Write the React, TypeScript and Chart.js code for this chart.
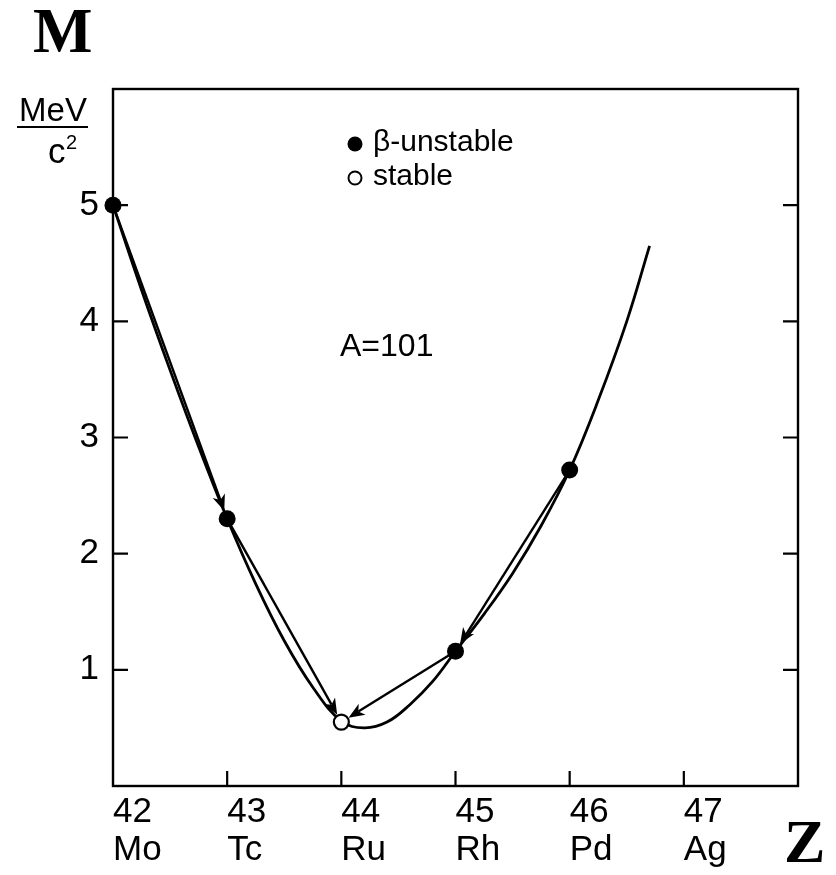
import { useEffect, useRef } from "react";
import { Chart, registerables } from "chart.js";

Chart.register(...registerables);

// Isobars with mass number A = 101: proton number Z and atomic mass excess (MeV/c²)
const protonNumbers = [42, 43, 44, 45, 46];
const isobarMasses = [5.0, 2.3, 0.55, 1.16, 2.72];
const isStable = [false, false, true, false, false];

// Axis ticks
const tickZ = [42, 43, 44, 45, 46, 47];
const tickSymbols = ["Mo", "Tc", "Ru", "Rh", "Pd", "Ag"];
const massTicks = [1, 2, 3, 4, 5];

// Mass parabola sampled along Z
const parabolaZ = [42, 42.25, 42.5, 42.75, 43, 43.25, 43.5, 43.75, 44, 44.2, 44.4, 44.6, 44.8, 45, 45.25, 45.5, 45.75, 46, 46.25, 46.5, 46.7];
const parabolaM = [5.0, 4.27, 3.58, 2.92, 2.3, 1.74, 1.25, 0.85, 0.56, 0.5, 0.55, 0.7, 0.9, 1.16, 1.48, 1.83, 2.24, 2.72, 3.32, 4.0, 4.65];

// β-decay arrows: [from index, to index] into protonNumbers
const decays = [
  [0, 1],
  [1, 2],
  [4, 3],
  [3, 2],
];

const SANS = '"Liberation Sans", Arial, Helvetica, sans-serif';
const SERIF = '"Liberation Serif", "Times New Roman", Times, serif';

function drawArrow(ctx: CanvasRenderingContext2D, x0: number, y0: number, x1: number, y1: number, gap: number) {
  const dx = x1 - x0;
  const dy = y1 - y0;
  const len = Math.hypot(dx, dy);
  const ux = dx / len;
  const uy = dy / len;
  const tx = x1 - ux * gap;
  const ty = y1 - uy * gap;
  const head = 16;
  const half = 6.5;
  const bx = tx - ux * head;
  const by = ty - uy * head;
  const nx = bx + ux * 4.5;
  const ny = by + uy * 4.5;
  ctx.beginPath();
  ctx.moveTo(x0, y0);
  ctx.lineTo(nx, ny);
  ctx.stroke();
  ctx.beginPath();
  ctx.moveTo(tx, ty);
  ctx.lineTo(bx - uy * half, by + ux * half);
  ctx.lineTo(nx, ny);
  ctx.lineTo(bx + uy * half, by - ux * half);
  ctx.closePath();
  ctx.fill();
}

const decorations = {
  id: "decorations",
  beforeDatasetsDraw(chart: any) {
    const { ctx, chartArea: a, scales } = chart;
    const x = scales.x;
    const y = scales.y;
    ctx.save();
    ctx.strokeStyle = "#000";
    ctx.fillStyle = "#000";
    ctx.lineWidth = 2.4;
    ctx.strokeRect(a.left, a.top, a.right - a.left, a.bottom - a.top);

    // inward tick marks
    ctx.lineWidth = 2.2;
    ctx.beginPath();
    for (const m of massTicks) {
      const py = y.getPixelForValue(m);
      ctx.moveTo(a.left, py);
      ctx.lineTo(a.left + 15, py);
      ctx.moveTo(a.right, py);
      ctx.lineTo(a.right - 15, py);
    }
    for (const z of tickZ) {
      const px = x.getPixelForValue(z);
      if (px <= a.left + 1) continue;
      ctx.moveTo(px, a.bottom);
      ctx.lineTo(px, a.bottom - 15);
    }
    ctx.stroke();

    // decay arrows
    ctx.lineWidth = 2.4;
    for (const [from, to] of decays) {
      const x0 = x.getPixelForValue(protonNumbers[from]);
      const y0 = y.getPixelForValue(isobarMasses[from]);
      const x1 = x.getPixelForValue(protonNumbers[to]);
      const y1 = y.getPixelForValue(isobarMasses[to]);
      drawArrow(ctx, x0, y0, x1, y1, 8.5);
    }
    ctx.restore();
  },
  afterDraw(chart: any) {
    const { ctx } = chart;
    ctx.save();
    ctx.fillStyle = "#000";
    ctx.strokeStyle = "#000";

    // axis symbols
    ctx.font = `bold 63px ${SERIF}`;
    ctx.textAlign = "left";
    ctx.textBaseline = "alphabetic";
    ctx.fillText("M", 33, 52);
    ctx.font = `bold 62px ${SERIF}`;
    ctx.fillText("Z", 784, 862);

    // unit fraction MeV / c²
    ctx.font = `33px ${SANS}`;
    ctx.textAlign = "center";
    ctx.fillText("MeV", 53, 121);
    ctx.lineWidth = 2;
    ctx.beginPath();
    ctx.moveTo(17, 127);
    ctx.lineTo(88, 127);
    ctx.stroke();
    ctx.textAlign = "left";
    ctx.font = `35px ${SANS}`;
    ctx.fillText("c", 48, 163);
    ctx.font = `20px ${SANS}`;
    ctx.fillText("2", 66, 149);

    // legend
    ctx.beginPath();
    ctx.arc(355, 144, 7.5, 0, Math.PI * 2);
    ctx.fill();
    ctx.beginPath();
    ctx.arc(355, 178, 6.5, 0, Math.PI * 2);
    ctx.fillStyle = "#fff";
    ctx.fill();
    ctx.lineWidth = 2;
    ctx.stroke();
    ctx.fillStyle = "#000";
    ctx.font = `30px ${SANS}`;
    ctx.textBaseline = "middle";
    ctx.fillText("β-unstable", 373, 143);
    ctx.fillText("stable", 373, 177);

    // mass number
    ctx.font = `32px ${SANS}`;
    ctx.fillText("A=101", 340, 347);
    ctx.restore();
  },
};

export default function App() {
  const ref = useRef<HTMLCanvasElement>(null);

  useEffect(() => {
    const canvas = ref.current;
    if (!canvas) return;
    const points = protonNumbers.map((z, i) => ({ x: z, y: isobarMasses[i] }));
    const chart = new Chart(canvas, {
      type: "scatter",
      data: {
        datasets: [
          {
            label: "β-unstable",
            data: points.filter((_, i) => !isStable[i]),
            pointRadius: 8.5,
            pointBackgroundColor: "#000",
            pointBorderColor: "#000",
            pointBorderWidth: 0,
            order: 0,
            clip: false,
          } as any,
          {
            label: "stable",
            data: points.filter((_, i) => isStable[i]),
            pointRadius: 7.5,
            pointBackgroundColor: "#fff",
            pointBorderColor: "#000",
            pointBorderWidth: 2.2,
            order: 0,
            clip: false,
          } as any,
          {
            type: "line",
            label: "mass parabola",
            data: parabolaZ.map((z, i) => ({ x: z, y: parabolaM[i] })),
            borderColor: "#000",
            borderWidth: 2.8,
            pointRadius: 0,
            tension: 0.4,
            fill: false,
            order: 1,
            clip: false,
          } as any,
        ],
      },
      options: {
        responsive: false,
        animation: false,
        devicePixelRatio: 1,
        events: [],
        layout: { padding: { top: 89, right: 38, left: 0, bottom: 0 } },
        plugins: {
          legend: { display: false },
          tooltip: { enabled: false },
          title: { display: false },
        },
        scales: {
          x: {
            type: "linear",
            min: 42,
            max: 48,
            grid: { display: false, drawTicks: false, tickLength: 0 },
            border: { display: false },
            afterFit(s: any) {
              s.height = 89;
            },
            afterBuildTicks(s: any) {
              s.ticks = tickZ.map((v) => ({ value: v }));
            },
            ticks: {
              autoSkip: false,
              maxRotation: 0,
              minRotation: 0,
              align: "start",
              padding: 7,
              color: "#000",
              font: { family: SANS, size: 35, lineHeight: 38 / 35 },
              callback(v: any) {
                const i = tickZ.indexOf(Number(v));
                return i < 0 ? "" : [String(v), tickSymbols[i]];
              },
            },
          },
          y: {
            type: "linear",
            min: 0,
            max: 6,
            grid: { display: false, drawTicks: false, tickLength: 0 },
            border: { display: false },
            afterFit(s: any) {
              s.width = 113;
            },
            afterBuildTicks(s: any) {
              s.ticks = massTicks.map((v) => ({ value: v }));
            },
            ticks: {
              autoSkip: false,
              padding: 14,
              color: "#000",
              font: { family: SANS, size: 35 },
              callback(v: any) {
                return String(v);
              },
            },
          },
        },
      } as any,
      plugins: [decorations],
    });
    return () => chart.destroy();
  }, []);

  return (
    <div style={{ position: "absolute", left: 0, top: 0, width: 836, height: 875, background: "#fff" }}>
      <canvas ref={ref} width={836} height={875} style={{ display: "block", width: 836, height: 875 }} />
    </div>
  );
}
